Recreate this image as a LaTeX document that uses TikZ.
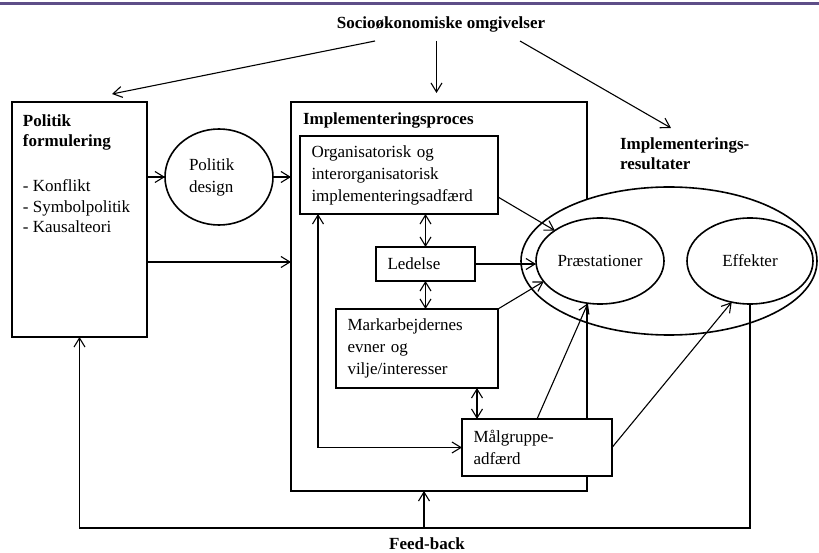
\documentclass[tikz,border=0pt]{standalone}
\usepackage{fontspec}
\setmainfont{Liberation Serif}
\usetikzlibrary{arrows.meta,shapes.geometric}
\definecolor{barpurple}{RGB}{94,78,136}
\begin{document}
\begin{tikzpicture}[x=1pt,y=-1pt,
  every node/.style={font=\fontsize{17}{22}\selectfont, inner sep=0pt, outer sep=0pt},
  plain/.style={line width=1.1pt},
  arr/.style={line width=1.1pt, -{Straight Barb[length=9pt,width=11pt]}},
  darr/.style={line width=1.1pt, {Straight Barb[length=9pt,width=11pt]}-{Straight Barb[length=9pt,width=11pt]}},
  box/.style={draw, line width=1.1pt, fill=white, align=left, inner xsep=11.5pt, inner ysep=0pt},
  oval/.style={draw, ellipse, line width=1.6pt, fill=white, inner sep=0pt},
  ttl/.style={font=\fontsize{17}{20}\selectfont\bfseries, align=left},
]
\useasboundingbox (0,0) rectangle (819,553);
\fill[white] (0,0) rectangle (819,553);
\draw[barpurple, line width=3pt] (0,4) -- (819,4);

% titles
\node[ttl, anchor=base] (soc) at (441,29) {Socioøkonomiske omgivelser};

% Politik formulering
\node[box, minimum width=135pt, minimum height=235pt] (pf) at (79.5,219.5) {};
\node[ttl, anchor=base west] (pft) at (23,147) {Politik\\formulering};
\node[anchor=base west, align=left, font=\fontsize{17}{20.5}\selectfont] (pfl) at (23,233) {- Konflikt\\- Symbolpolitik\\- Kausalteori};

% Politik design
\node[oval, minimum width=108pt, minimum height=96pt, text width=60pt, align=left] (pd) at (219,177) {Politik\\design};

% Implementeringsproces
\node[draw, line width=1.1pt, minimum width=296pt, minimum height=389pt] (ip) at (439,296.5) {};
\node[ttl, anchor=base west] (ipt) at (303,125) {Implementeringsproces};

\node[box, text width=175pt, minimum height=78pt] (org) at (399,175) {Organisatorisk og\\interorganisatorisk\\implementeringsadfærd};
\node[box, text width=76pt, minimum height=34pt] (led) at (425.5,264) {Ledelse};
\node[box, text width=139pt, minimum height=79pt] (mark) at (417,348.5) {Markarbejdernes\\evner og\\vilje/interesser};

% Resultater
\node[oval, minimum width=296pt, minimum height=148pt] (res) at (669,261) {};
\node[oval, minimum width=128pt, minimum height=86pt] (praes) at (600,261) {Præstationer};
\node[oval, minimum width=126pt, minimum height=86pt] (eff) at (750,261) {Effekter};
\node[ttl, anchor=base west] (irt) at (620,170) {Implementerings-\\resultater};

\draw[plain] (praes.south -| ip.east) -- (ip.south east);
\node[box, text width=127pt, minimum height=57pt] (mal) at (537,447.5) {Målgruppe-\\adfærd};

\node[ttl, anchor=base] (fb) at (427,549.5) {Feed-back};

% connectors from the top
\coordinate (s1) at (375,41); \coordinate (e1) at (112,94);
\coordinate (s2) at (436.5,41); \coordinate (e2) at (436.5,93);
\coordinate (s3) at (520,41); \coordinate (e3) at (671,128);
\draw[arr] (s1) -- (e1);
\draw[arr] (s2) -- (e2);
\draw[arr] (s3) -- (e3);

% left side
\coordinate (y2) at (147,262);
\draw[arr] (pf.east |- pd.west) -- (pd.west);
\draw[arr] (pd.east) -- (pd.east -| ip.west);
\draw[arr] (pf.east |- y2) -- (y2 -| ip.west);

% inside
\draw[arr] ([yshift=-22pt]org.east) -- (praes.146);
\draw[arr] (led.east) -- (praes.west |- led.east);
\draw[arr] (mark.north east) -- (praes.200);
\draw[arr] (mal.north) -- (praes.254);
\draw[arr] (mal.east) -- (eff.246);
\draw[darr] (org.south -| led.north) -- (led.north);
\draw[darr] (led.south) -- (mark.north -| led.south);
\coordinate (dm) at (477,0);
\draw[darr] (mark.south -| dm) -- (mal.north -| dm);
\coordinate (lp) at (318,447.5);
\draw[darr] (org.south -| lp) -- (lp) -- (mal.west);

% feed-back
\coordinate (fbc) at (749,528);
\draw[arr] (eff.south) -- (eff.south |- fbc) -| (pf.south);
\coordinate (fbj) at (424,528);
\draw[arr] (fbj) -- (fbj |- ip.south);
\end{tikzpicture}
\end{document}
